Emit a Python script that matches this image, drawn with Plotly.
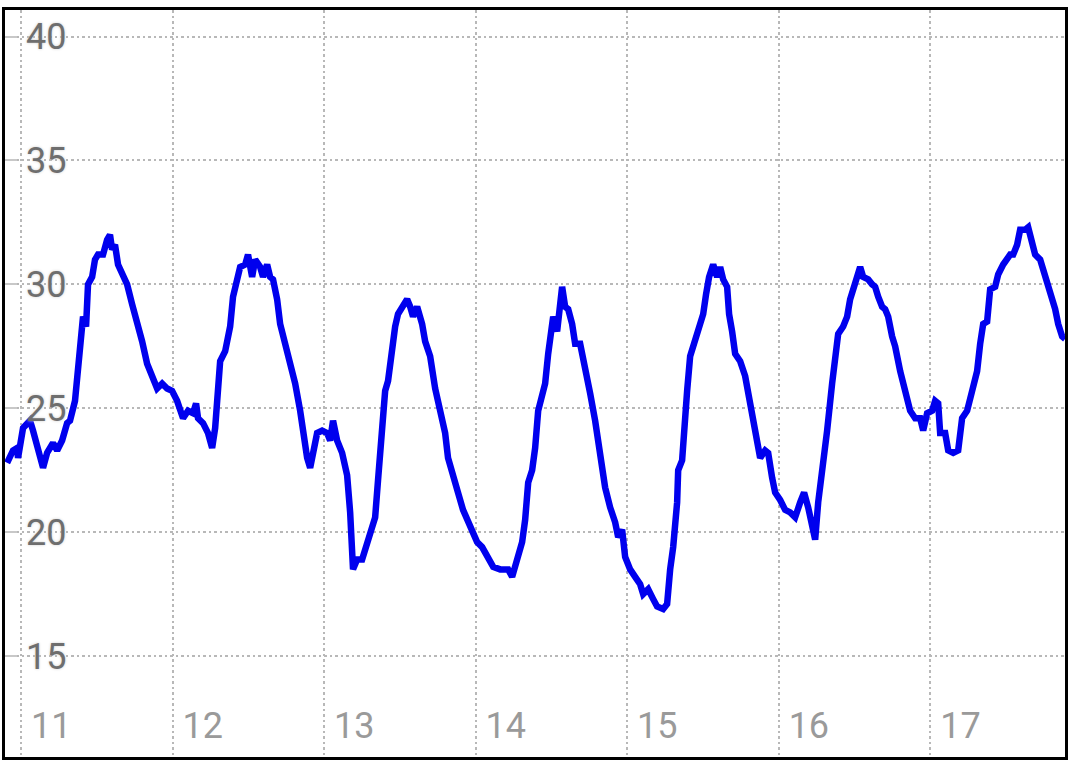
import plotly.graph_objects as go

# time in days (day-of-month with fraction), temperature values
days = [
    10.908, 10.947, 10.974, 10.980, 11.013, 11.059, 11.079, 11.125, 11.145, 11.172,
    11.211, 11.238, 11.271, 11.304, 11.323, 11.356, 11.389, 11.409, 11.429, 11.442,
    11.469, 11.488, 11.508, 11.541, 11.568, 11.587, 11.601, 11.620, 11.640, 11.667,
    11.700, 11.733, 11.766, 11.799, 11.832, 11.865, 11.898, 11.931, 11.964, 11.997,
    12.030, 12.069, 12.102, 12.135, 12.155, 12.168, 12.201, 12.234, 12.261, 12.281,
    12.300, 12.314, 12.347, 12.380, 12.399, 12.426, 12.446, 12.479, 12.498, 12.525,
    12.545, 12.578, 12.597, 12.624, 12.644, 12.663, 12.690, 12.710, 12.743, 12.776,
    12.809, 12.842, 12.861, 12.888, 12.908, 12.927, 12.954, 12.987, 13.020, 13.040,
    13.059, 13.086, 13.119, 13.152, 13.172, 13.191, 13.218, 13.251, 13.271, 13.304,
    13.337, 13.356, 13.383, 13.403, 13.422, 13.449, 13.469, 13.488, 13.515, 13.548,
    13.568, 13.587, 13.614, 13.647, 13.667, 13.700, 13.733, 13.766, 13.799, 13.818,
    13.851, 13.884, 13.917, 13.950, 13.983, 14.010, 14.043, 14.076, 14.116, 14.162,
    14.215, 14.241, 14.274, 14.307, 14.327, 14.347, 14.373, 14.393, 14.413, 14.439,
    14.459, 14.479, 14.505, 14.512, 14.538, 14.558, 14.571, 14.591, 14.611, 14.637,
    14.657, 14.690, 14.723, 14.756, 14.789, 14.822, 14.855, 14.888, 14.921, 14.941,
    14.967, 14.987, 15.020, 15.053, 15.086, 15.106, 15.139, 15.172, 15.198, 15.238,
    15.264, 15.284, 15.304, 15.330, 15.337, 15.363, 15.383, 15.396, 15.416, 15.436,
    15.462, 15.482, 15.502, 15.521, 15.541, 15.568, 15.594, 15.614, 15.634, 15.660,
    15.673, 15.693, 15.713, 15.746, 15.779, 15.812, 15.845, 15.878, 15.911, 15.931,
    15.957, 15.977, 16.010, 16.043, 16.076, 16.109, 16.142, 16.168, 16.195, 16.221,
    16.241, 16.261, 16.294, 16.320, 16.353, 16.373, 16.393, 16.426, 16.452, 16.472,
    16.492, 16.518, 16.538, 16.558, 16.591, 16.617, 16.637, 16.657, 16.683, 16.703,
    16.723, 16.749, 16.769, 16.802, 16.835, 16.868, 16.901, 16.934, 16.954, 16.980,
    17.013, 17.033, 17.053, 17.066, 17.099, 17.119, 17.152, 17.185, 17.211, 17.244,
    17.277, 17.310, 17.330, 17.350, 17.376, 17.396, 17.429, 17.449, 17.482, 17.508,
    17.528, 17.548, 17.574, 17.594, 17.627, 17.647, 17.673, 17.693, 17.726, 17.759,
    17.792, 17.825, 17.845, 17.871, 17.891,
]

temperature = [
    22.8, 23.3, 23.4, 23.0, 24.2, 24.5, 24.1, 23.2, 22.6, 23.2,
    23.6, 23.3, 23.7, 24.4, 24.5, 25.3, 27.2, 28.7, 28.3, 30.0,
    30.3, 31.0, 31.2, 31.2, 31.8, 32.0, 31.4, 31.6, 30.8, 30.4,
    30.0, 29.2, 28.5, 27.7, 26.8, 26.2, 25.8, 26.0, 25.8, 25.7,
    25.3, 24.6, 24.9, 24.8, 25.2, 24.6, 24.4, 24.0, 23.4, 24.2,
    25.8, 26.9, 27.3, 28.3, 29.5, 30.3, 30.7, 30.8, 31.2, 30.3,
    31.0, 30.7, 30.3, 30.8, 30.3, 30.2, 29.4, 28.4, 27.6, 26.7,
    26.0, 24.9, 24.0, 23.0, 22.6, 23.2, 24.0, 24.1, 24.0, 23.7,
    24.5, 23.7, 23.2, 22.3, 20.8, 18.5, 18.9, 18.9, 19.3, 19.8,
    20.6, 22.1, 24.2, 25.7, 26.1, 27.5, 28.3, 28.8, 29.1, 29.4,
    29.1, 28.7, 29.1, 28.4, 27.7, 27.1, 25.8, 25.0, 24.0, 23.0,
    22.2, 21.6, 20.9, 20.4, 20.0, 19.6, 19.4, 19.0, 18.6, 18.5,
    18.5, 18.2, 18.8, 19.6, 20.5, 22.0, 22.5, 23.4, 24.9, 25.7,
    26.0, 27.2, 28.1, 28.7, 28.1, 29.2, 29.9, 29.1, 29.0, 28.4,
    27.6, 27.6, 26.7, 25.6, 24.5, 23.0, 21.8, 21.0, 20.4, 19.8,
    20.1, 19.0, 18.5, 18.2, 17.9, 17.5, 17.7, 17.3, 17.0, 16.9,
    17.1, 18.5, 19.4, 21.2, 22.5, 22.9, 25.2, 25.7, 27.1, 27.5,
    27.9, 28.4, 28.8, 29.6, 30.3, 30.8, 30.3, 30.7, 30.2, 29.9,
    28.8, 28.1, 27.2, 26.9, 26.3, 25.2, 24.1, 23.0, 23.3, 23.2,
    22.2, 21.6, 21.3, 20.9, 20.8, 20.6, 21.2, 21.6, 21.0, 20.2,
    19.7, 21.2, 22.6, 24.1, 26.0, 27.1, 28.0, 28.3, 28.7, 29.4,
    29.8, 30.3, 30.7, 30.3, 30.2, 30.0, 29.9, 29.5, 29.1, 29.0,
    28.7, 27.9, 27.5, 26.5, 25.6, 24.9, 24.6, 24.6, 24.1, 24.8,
    24.9, 25.3, 25.2, 24.0, 24.0, 23.3, 23.2, 23.3, 24.6, 24.9,
    25.7, 26.5, 27.6, 28.4, 28.5, 29.8, 29.9, 30.4, 30.8, 31.1,
    31.2, 31.2, 31.6, 32.2, 32.2, 32.3, 31.8, 31.2, 31.0, 30.4,
    29.8, 29.0, 28.4, 27.9, 27.8,
]

x_ticks = [11, 12, 13, 14, 15, 16, 17]
y_ticks = [15, 20, 25, 30, 35, 40]
x_range = [10.894, 17.89]
y_range = [10.93, 41.07]

GRID = dict(showgrid=True, gridcolor="#b8b8b8", gridwidth=2, griddash="2.5px,3px")

fig = go.Figure()
fig.add_trace(go.Scatter(
    x=days, y=temperature, mode="lines",
    line=dict(color="#0000ee", width=6.5),
    hoverinfo="skip", showlegend=False,
))
# invisible trace so the overlaid label axes are drawn
fig.add_trace(go.Scatter(
    x=[x_ticks[0]], y=[y_ticks[0]], xaxis="x2", yaxis="y2", mode="markers",
    marker=dict(opacity=0), hoverinfo="skip", showlegend=False,
))

fig.update_layout(
    width=1074, height=771,
    margin=dict(l=5, r=9, t=10, b=14),
    paper_bgcolor="white", plot_bgcolor="white",
    font=dict(family="Roboto", size=36),
    xaxis=dict(
        range=x_range, tickvals=x_ticks, showticklabels=False, ticks="",
        showline=True, linecolor="black", linewidth=3, mirror=True,
        zeroline=False, **GRID,
    ),
    xaxis2=dict(
        overlaying="x", anchor="free", position=0.075, side="bottom",
        range=x_range, tickvals=x_ticks, ticktext=[str(v) for v in x_ticks],
        ticklabelposition="outside right", ticklabelshift=10,
        tickfont=dict(color="#9a9a9a", size=36, family="Roboto"),
        ticks="", showgrid=False, showline=False, zeroline=False,
    ),
    yaxis=dict(
        range=y_range, tickvals=y_ticks, showticklabels=False,
        ticks="inside", ticklen=12, tickwidth=2, tickcolor="#c8c8c8",
        showline=True, linecolor="black", linewidth=3, mirror=True,
        zeroline=False, **GRID,
    ),
    yaxis2=dict(
        overlaying="y", anchor="free", position=0.0189, side="right",
        range=y_range, tickvals=y_ticks, ticktext=[str(v) for v in y_ticks],
        tickfont=dict(color="#6e6e6e", size=36, family="Roboto",
                      shadow="0px 0px 3px #cfcfcf"),
        ticks="", showgrid=False, showline=False, zeroline=False,
    ),
)

fig.write_html(
    "out.html",
    config={"displayModeBar": False},
    post_script="document.body.style.margin='0px';",
)
